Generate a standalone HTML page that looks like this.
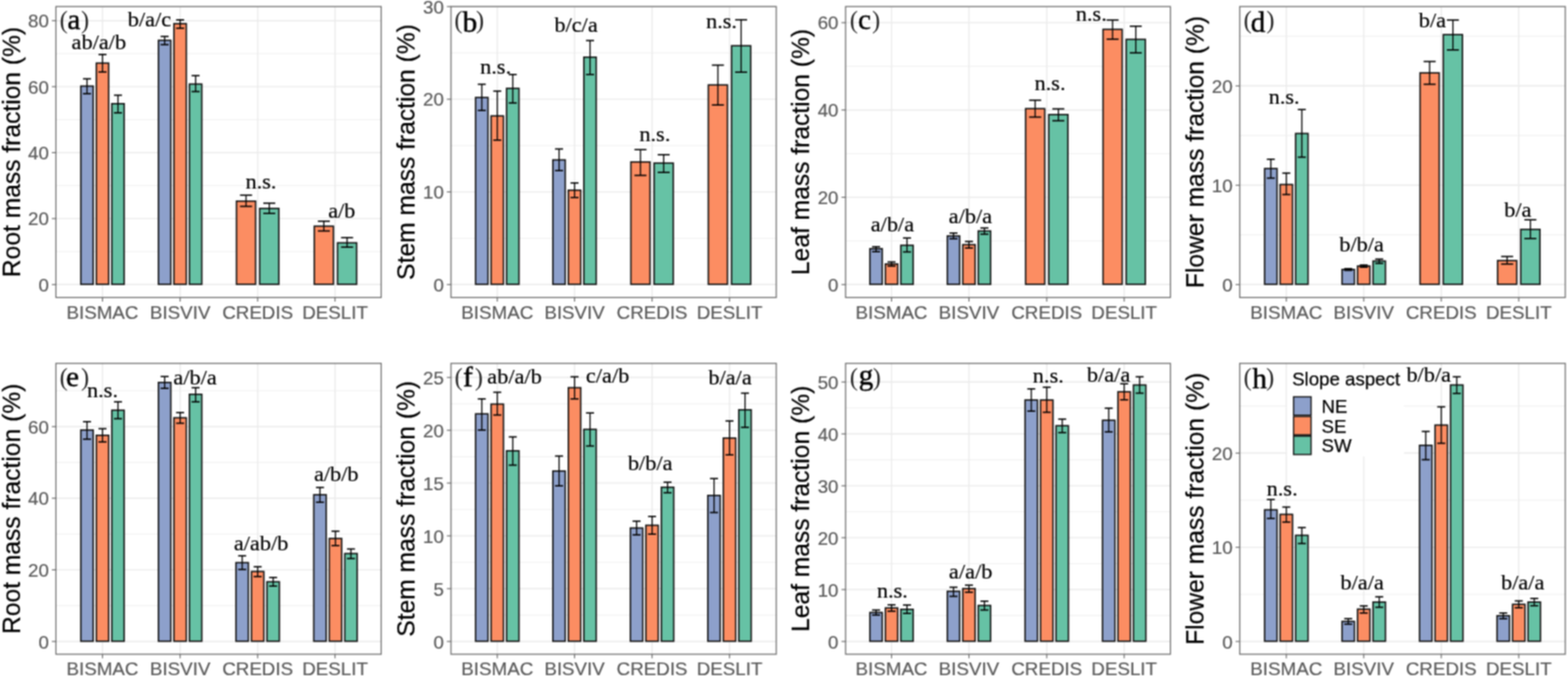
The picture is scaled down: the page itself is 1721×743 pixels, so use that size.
<!DOCTYPE html>
<html lang="en">
<head>
<meta charset="utf-8">
<title>Mass fractions by slope aspect</title>
<style>
html,body{margin:0;padding:0;background:#fff;}
body{width:1721px;height:743px;overflow:hidden;}
svg{display:block;}
text{font-family:"Liberation Sans",Arial,Helvetica,sans-serif;}
.es{stroke:#000;stroke-width:1.3px;}
.ec{stroke:#000;stroke-width:1.55px;}
.tk{font-size:20.6px;fill:#5a5a5a;stroke:#5a5a5a;stroke-width:0.2px;}
.ti{font-size:27px;fill:#000;stroke:#000;stroke-width:0.25px;}
.lt{font-size:20.4px;fill:#000;stroke:#000;stroke-width:0.25px;}
.pl{font-family:"Liberation Serif","Times New Roman",Times,serif;font-size:32.0px;fill:#000;stroke:#000;stroke-width:0.5px;}
.pp{font-family:"Liberation Serif","Times New Roman",Times,serif;font-size:26.4px;fill:#222;}
.sg{font-family:"Liberation Serif","Times New Roman",Times,serif;font-size:24px;fill:#000;stroke:#000;stroke-width:0.2px;}
</style>
</head>
<body>
<svg width="1721" height="743" viewBox="0 0 1721 743">
<defs><filter id="soft" x="0" y="0" width="1721" height="743" filterUnits="userSpaceOnUse" color-interpolation-filters="sRGB"><feConvolveMatrix order="3" kernelMatrix="1 2 1 2 4 2 1 2 1" edgeMode="duplicate" preserveAlpha="true"/></filter></defs>
<rect x="0" y="0" width="1721" height="743" fill="#ffffff"/>
<g filter="url(#soft)">
<rect x="0" y="0" width="1721" height="743" fill="#ffffff"/>
<g>
<line x1="61.4" x2="418.4" y1="276.1" y2="276.1" stroke="#ebebeb" stroke-width="0.75"/>
<line x1="61.4" x2="418.4" y1="203.7" y2="203.7" stroke="#ebebeb" stroke-width="0.75"/>
<line x1="61.4" x2="418.4" y1="131.3" y2="131.3" stroke="#ebebeb" stroke-width="0.75"/>
<line x1="61.4" x2="418.4" y1="58.9" y2="58.9" stroke="#ebebeb" stroke-width="0.75"/>
<line x1="61.4" x2="418.4" y1="312.3" y2="312.3" stroke="#ebebeb" stroke-width="1.4"/>
<line x1="61.4" x2="418.4" y1="239.9" y2="239.9" stroke="#ebebeb" stroke-width="1.4"/>
<line x1="61.4" x2="418.4" y1="167.5" y2="167.5" stroke="#ebebeb" stroke-width="1.4"/>
<line x1="61.4" x2="418.4" y1="95.1" y2="95.1" stroke="#ebebeb" stroke-width="1.4"/>
<line x1="61.4" x2="418.4" y1="22.7" y2="22.7" stroke="#ebebeb" stroke-width="1.4"/>
<line x1="112.5" x2="112.5" y1="7.2" y2="326.5" stroke="#ebebeb" stroke-width="1.4"/>
<line x1="197.7" x2="197.7" y1="7.2" y2="326.5" stroke="#ebebeb" stroke-width="1.4"/>
<line x1="282.8" x2="282.8" y1="7.2" y2="326.5" stroke="#ebebeb" stroke-width="1.4"/>
<line x1="367.7" x2="367.7" y1="7.2" y2="326.5" stroke="#ebebeb" stroke-width="1.4"/>
<rect x="88.7" y="94.5" width="13.6" height="217.5" fill="#8DA0CB" stroke="#141414" stroke-width="1.6"/>
<rect x="105.7" y="69.3" width="13.6" height="242.7" fill="#FC8D62" stroke="#141414" stroke-width="1.6"/>
<rect x="122.7" y="113.8" width="13.6" height="198.2" fill="#66C2A5" stroke="#141414" stroke-width="1.6"/>
<line class="es" x1="95.5" x2="95.5" y1="86.5" y2="102.8"/>
<line class="ec" x1="91.11" x2="99.89" y1="86.5" y2="86.5"/>
<line class="ec" x1="91.11" x2="99.89" y1="102.8" y2="102.8"/>
<line class="es" x1="112.5" x2="112.5" y1="59.8" y2="79"/>
<line class="ec" x1="108.11" x2="116.89" y1="59.8" y2="59.8"/>
<line class="ec" x1="108.11" x2="116.89" y1="79" y2="79"/>
<line class="es" x1="129.5" x2="129.5" y1="104.5" y2="123.8"/>
<line class="ec" x1="125.11" x2="133.89" y1="104.5" y2="104.5"/>
<line class="ec" x1="125.11" x2="133.89" y1="123.8" y2="123.8"/>
<rect x="173.9" y="44.3" width="13.6" height="267.7" fill="#8DA0CB" stroke="#141414" stroke-width="1.6"/>
<rect x="190.9" y="26" width="13.6" height="286" fill="#FC8D62" stroke="#141414" stroke-width="1.6"/>
<rect x="207.9" y="92.3" width="13.6" height="219.7" fill="#66C2A5" stroke="#141414" stroke-width="1.6"/>
<line class="es" x1="180.7" x2="180.7" y1="40" y2="49"/>
<line class="ec" x1="176.31" x2="185.09" y1="40" y2="40"/>
<line class="ec" x1="176.31" x2="185.09" y1="49" y2="49"/>
<line class="es" x1="197.7" x2="197.7" y1="21.8" y2="31"/>
<line class="ec" x1="193.31" x2="202.09" y1="21.8" y2="21.8"/>
<line class="ec" x1="193.31" x2="202.09" y1="31" y2="31"/>
<line class="es" x1="214.7" x2="214.7" y1="83" y2="100.5"/>
<line class="ec" x1="210.31" x2="219.09" y1="83" y2="83"/>
<line class="ec" x1="210.31" x2="219.09" y1="100.5" y2="100.5"/>
<rect x="259.55" y="220.75" width="21" height="91.25" fill="#FC8D62" stroke="#141414" stroke-width="1.6"/>
<rect x="285.05" y="228.75" width="21" height="83.25" fill="#66C2A5" stroke="#141414" stroke-width="1.6"/>
<line class="es" x1="270.05" x2="270.05" y1="214.25" y2="226.5"/>
<line class="ec" x1="263.46" x2="276.64" y1="214.25" y2="214.25"/>
<line class="ec" x1="263.46" x2="276.64" y1="226.5" y2="226.5"/>
<line class="es" x1="295.55" x2="295.55" y1="223" y2="234.25"/>
<line class="ec" x1="288.96" x2="302.14" y1="223" y2="223"/>
<line class="ec" x1="288.96" x2="302.14" y1="234.25" y2="234.25"/>
<rect x="344.95" y="248.25" width="21" height="63.75" fill="#FC8D62" stroke="#141414" stroke-width="1.6"/>
<rect x="370.45" y="266.5" width="21" height="45.5" fill="#66C2A5" stroke="#141414" stroke-width="1.6"/>
<line class="es" x1="355.45" x2="355.45" y1="242.75" y2="253.5"/>
<line class="ec" x1="348.86" x2="362.04" y1="242.75" y2="242.75"/>
<line class="ec" x1="348.86" x2="362.04" y1="253.5" y2="253.5"/>
<line class="es" x1="380.95" x2="380.95" y1="260.75" y2="271.25"/>
<line class="ec" x1="374.36" x2="387.54" y1="260.75" y2="260.75"/>
<line class="ec" x1="374.36" x2="387.54" y1="271.25" y2="271.25"/>
<rect x="61.4" y="7.2" width="357" height="319.3" fill="none" stroke="#6e6e6e" stroke-width="1.25"/>
<line x1="56.9" x2="61.4" y1="312.3" y2="312.3" stroke="#666666" stroke-width="1.1"/>
<text class="tk" x="53.6" y="319.8" text-anchor="end">0</text>
<line x1="56.9" x2="61.4" y1="239.9" y2="239.9" stroke="#666666" stroke-width="1.1"/>
<text class="tk" x="53.6" y="247.4" text-anchor="end">20</text>
<line x1="56.9" x2="61.4" y1="167.5" y2="167.5" stroke="#666666" stroke-width="1.1"/>
<text class="tk" x="53.6" y="175" text-anchor="end">40</text>
<line x1="56.9" x2="61.4" y1="95.1" y2="95.1" stroke="#666666" stroke-width="1.1"/>
<text class="tk" x="53.6" y="102.6" text-anchor="end">60</text>
<line x1="56.9" x2="61.4" y1="22.7" y2="22.7" stroke="#666666" stroke-width="1.1"/>
<text class="tk" x="53.6" y="30.2" text-anchor="end">80</text>
<line x1="112.5" x2="112.5" y1="326.5" y2="331" stroke="#666666" stroke-width="1.1"/>
<text class="tk" x="112.5" y="349.5" text-anchor="middle">BISMAC</text>
<line x1="197.7" x2="197.7" y1="326.5" y2="331" stroke="#666666" stroke-width="1.1"/>
<text class="tk" x="197.7" y="349.5" text-anchor="middle">BISVIV</text>
<line x1="282.8" x2="282.8" y1="326.5" y2="331" stroke="#666666" stroke-width="1.1"/>
<text class="tk" x="282.8" y="349.5" text-anchor="middle">CREDIS</text>
<line x1="367.7" x2="367.7" y1="326.5" y2="331" stroke="#666666" stroke-width="1.1"/>
<text class="tk" x="367.7" y="349.5" text-anchor="middle">DESLIT</text>
<text class="ti" transform="translate(21.8 166.85) rotate(-90)" text-anchor="middle">Root mass fraction (%)</text>
<text><tspan class="pp" x="65.4" y="31.45">(</tspan><tspan class="pl" x="73.9" y="31.7">a</tspan><tspan class="pp" x="89.11" y="31.45">)</tspan></text>
<text class="sg" transform="translate(108.5 53.9) scale(1.02 1)" text-anchor="middle">ab/a/b</text>
<text class="sg" transform="translate(164.1 28.55) scale(1.02 1)" text-anchor="middle">b/a/c</text>
<text class="sg" transform="translate(286.4 207.3) scale(1.02 1)" text-anchor="middle">n.s.</text>
<text class="sg" transform="translate(375.1 239.3) scale(1.02 1)" text-anchor="middle">a/b</text>
</g>
<g>
<line x1="495" x2="852" y1="261.45" y2="261.45" stroke="#ebebeb" stroke-width="0.75"/>
<line x1="495" x2="852" y1="159.75" y2="159.75" stroke="#ebebeb" stroke-width="0.75"/>
<line x1="495" x2="852" y1="58.05" y2="58.05" stroke="#ebebeb" stroke-width="0.75"/>
<line x1="495" x2="852" y1="312.3" y2="312.3" stroke="#ebebeb" stroke-width="1.4"/>
<line x1="495" x2="852" y1="210.6" y2="210.6" stroke="#ebebeb" stroke-width="1.4"/>
<line x1="495" x2="852" y1="108.9" y2="108.9" stroke="#ebebeb" stroke-width="1.4"/>
<line x1="495" x2="852" y1="7.2" y2="7.2" stroke="#ebebeb" stroke-width="1.4"/>
<line x1="545.8" x2="545.8" y1="7.2" y2="326.5" stroke="#ebebeb" stroke-width="1.4"/>
<line x1="630.6" x2="630.6" y1="7.2" y2="326.5" stroke="#ebebeb" stroke-width="1.4"/>
<line x1="715.7" x2="715.7" y1="7.2" y2="326.5" stroke="#ebebeb" stroke-width="1.4"/>
<line x1="800.7" x2="800.7" y1="7.2" y2="326.5" stroke="#ebebeb" stroke-width="1.4"/>
<rect x="522" y="107" width="13.6" height="205" fill="#8DA0CB" stroke="#141414" stroke-width="1.6"/>
<rect x="539" y="127.25" width="13.6" height="184.75" fill="#FC8D62" stroke="#141414" stroke-width="1.6"/>
<rect x="556" y="97" width="13.6" height="215" fill="#66C2A5" stroke="#141414" stroke-width="1.6"/>
<line class="es" x1="528.8" x2="528.8" y1="92.5" y2="121.25"/>
<line class="ec" x1="524.41" x2="533.19" y1="92.5" y2="92.5"/>
<line class="ec" x1="524.41" x2="533.19" y1="121.25" y2="121.25"/>
<line class="es" x1="545.8" x2="545.8" y1="100" y2="153.75"/>
<line class="ec" x1="541.41" x2="550.19" y1="100" y2="100"/>
<line class="ec" x1="541.41" x2="550.19" y1="153.75" y2="153.75"/>
<line class="es" x1="562.8" x2="562.8" y1="81.75" y2="113"/>
<line class="ec" x1="558.41" x2="567.19" y1="81.75" y2="81.75"/>
<line class="ec" x1="558.41" x2="567.19" y1="113" y2="113"/>
<rect x="606.8" y="175.5" width="13.6" height="136.5" fill="#8DA0CB" stroke="#141414" stroke-width="1.6"/>
<rect x="623.8" y="208.75" width="13.6" height="103.25" fill="#FC8D62" stroke="#141414" stroke-width="1.6"/>
<rect x="640.8" y="62.75" width="13.6" height="249.25" fill="#66C2A5" stroke="#141414" stroke-width="1.6"/>
<line class="es" x1="613.6" x2="613.6" y1="163.5" y2="187.25"/>
<line class="ec" x1="609.21" x2="617.99" y1="163.5" y2="163.5"/>
<line class="ec" x1="609.21" x2="617.99" y1="187.25" y2="187.25"/>
<line class="es" x1="630.6" x2="630.6" y1="200.75" y2="216.75"/>
<line class="ec" x1="626.21" x2="634.99" y1="200.75" y2="200.75"/>
<line class="ec" x1="626.21" x2="634.99" y1="216.75" y2="216.75"/>
<line class="es" x1="647.6" x2="647.6" y1="44.5" y2="81.75"/>
<line class="ec" x1="643.21" x2="651.99" y1="44.5" y2="44.5"/>
<line class="ec" x1="643.21" x2="651.99" y1="81.75" y2="81.75"/>
<rect x="692.45" y="177.75" width="21" height="134.25" fill="#FC8D62" stroke="#141414" stroke-width="1.6"/>
<rect x="717.95" y="179" width="21" height="133" fill="#66C2A5" stroke="#141414" stroke-width="1.6"/>
<line class="es" x1="702.95" x2="702.95" y1="164.25" y2="192.5"/>
<line class="ec" x1="696.36" x2="709.54" y1="164.25" y2="164.25"/>
<line class="ec" x1="696.36" x2="709.54" y1="192.5" y2="192.5"/>
<line class="es" x1="728.45" x2="728.45" y1="169.75" y2="189.25"/>
<line class="ec" x1="721.86" x2="735.04" y1="169.75" y2="169.75"/>
<line class="ec" x1="721.86" x2="735.04" y1="189.25" y2="189.25"/>
<rect x="777.45" y="93.25" width="21" height="218.75" fill="#FC8D62" stroke="#141414" stroke-width="1.6"/>
<rect x="802.95" y="50.25" width="21" height="261.75" fill="#66C2A5" stroke="#141414" stroke-width="1.6"/>
<line class="es" x1="787.95" x2="787.95" y1="71.5" y2="115.25"/>
<line class="ec" x1="781.36" x2="794.54" y1="71.5" y2="71.5"/>
<line class="ec" x1="781.36" x2="794.54" y1="115.25" y2="115.25"/>
<line class="es" x1="813.45" x2="813.45" y1="21.7" y2="79.25"/>
<line class="ec" x1="806.86" x2="820.04" y1="21.7" y2="21.7"/>
<line class="ec" x1="806.86" x2="820.04" y1="79.25" y2="79.25"/>
<rect x="495" y="7.2" width="357" height="319.3" fill="none" stroke="#6e6e6e" stroke-width="1.25"/>
<line x1="490.5" x2="495" y1="312.3" y2="312.3" stroke="#666666" stroke-width="1.1"/>
<text class="tk" x="487.2" y="319.8" text-anchor="end">0</text>
<line x1="490.5" x2="495" y1="210.6" y2="210.6" stroke="#666666" stroke-width="1.1"/>
<text class="tk" x="487.2" y="218.1" text-anchor="end">10</text>
<line x1="490.5" x2="495" y1="108.9" y2="108.9" stroke="#666666" stroke-width="1.1"/>
<text class="tk" x="487.2" y="116.4" text-anchor="end">20</text>
<line x1="490.5" x2="495" y1="7.2" y2="7.2" stroke="#666666" stroke-width="1.1"/>
<text class="tk" x="487.2" y="14.7" text-anchor="end">30</text>
<line x1="545.8" x2="545.8" y1="326.5" y2="331" stroke="#666666" stroke-width="1.1"/>
<text class="tk" x="545.8" y="349.5" text-anchor="middle">BISMAC</text>
<line x1="630.6" x2="630.6" y1="326.5" y2="331" stroke="#666666" stroke-width="1.1"/>
<text class="tk" x="630.6" y="349.5" text-anchor="middle">BISVIV</text>
<line x1="715.7" x2="715.7" y1="326.5" y2="331" stroke="#666666" stroke-width="1.1"/>
<text class="tk" x="715.7" y="349.5" text-anchor="middle">CREDIS</text>
<line x1="800.7" x2="800.7" y1="326.5" y2="331" stroke="#666666" stroke-width="1.1"/>
<text class="tk" x="800.7" y="349.5" text-anchor="middle">DESLIT</text>
<text class="ti" transform="translate(455.4 166.85) rotate(-90)" text-anchor="middle">Stem mass fraction (%)</text>
<text><tspan class="pp" x="498.7" y="31.45">(</tspan><tspan class="pl" x="507.81" y="35.25">b</tspan><tspan class="pp" x="522.41" y="31.45">)</tspan></text>
<text class="sg" transform="translate(544 80.8) scale(1.02 1)" text-anchor="middle">n.s.</text>
<text class="sg" transform="translate(632.25 34.55) scale(1.02 1)" text-anchor="middle">b/c/a</text>
<text class="sg" transform="translate(718.75 154.55) scale(1.02 1)" text-anchor="middle">n.s.</text>
<text class="sg" transform="translate(791.9 31.3) scale(1.02 1)" text-anchor="middle">n.s.</text>
</g>
<g>
<line x1="928.1" x2="1284.6" y1="264.4" y2="264.4" stroke="#ebebeb" stroke-width="0.75"/>
<line x1="928.1" x2="1284.6" y1="168.6" y2="168.6" stroke="#ebebeb" stroke-width="0.75"/>
<line x1="928.1" x2="1284.6" y1="72.8" y2="72.8" stroke="#ebebeb" stroke-width="0.75"/>
<line x1="928.1" x2="1284.6" y1="312.3" y2="312.3" stroke="#ebebeb" stroke-width="1.4"/>
<line x1="928.1" x2="1284.6" y1="216.5" y2="216.5" stroke="#ebebeb" stroke-width="1.4"/>
<line x1="928.1" x2="1284.6" y1="120.7" y2="120.7" stroke="#ebebeb" stroke-width="1.4"/>
<line x1="928.1" x2="1284.6" y1="24.9" y2="24.9" stroke="#ebebeb" stroke-width="1.4"/>
<line x1="978.53" x2="978.53" y1="7.2" y2="326.5" stroke="#ebebeb" stroke-width="1.4"/>
<line x1="1063.51" x2="1063.51" y1="7.2" y2="326.5" stroke="#ebebeb" stroke-width="1.4"/>
<line x1="1148.89" x2="1148.89" y1="7.2" y2="326.5" stroke="#ebebeb" stroke-width="1.4"/>
<line x1="1233.87" x2="1233.87" y1="7.2" y2="326.5" stroke="#ebebeb" stroke-width="1.4"/>
<rect x="954.75" y="273" width="13.6" height="39" fill="#8DA0CB" stroke="#141414" stroke-width="1.6"/>
<rect x="971.73" y="289.75" width="13.6" height="22.25" fill="#FC8D62" stroke="#141414" stroke-width="1.6"/>
<rect x="988.7" y="269.25" width="13.6" height="42.75" fill="#66C2A5" stroke="#141414" stroke-width="1.6"/>
<line class="es" x1="961.55" x2="961.55" y1="270.75" y2="276.25"/>
<line class="ec" x1="957.17" x2="965.94" y1="270.75" y2="270.75"/>
<line class="ec" x1="957.17" x2="965.94" y1="276.25" y2="276.25"/>
<line class="es" x1="978.53" x2="978.53" y1="287.5" y2="292"/>
<line class="ec" x1="974.14" x2="982.91" y1="287.5" y2="287.5"/>
<line class="ec" x1="974.14" x2="982.91" y1="292" y2="292"/>
<line class="es" x1="995.5" x2="995.5" y1="261.25" y2="276.5"/>
<line class="ec" x1="991.12" x2="999.89" y1="261.25" y2="261.25"/>
<line class="ec" x1="991.12" x2="999.89" y1="276.5" y2="276.5"/>
<rect x="1039.73" y="259" width="13.6" height="53" fill="#8DA0CB" stroke="#141414" stroke-width="1.6"/>
<rect x="1056.71" y="268.5" width="13.6" height="43.5" fill="#FC8D62" stroke="#141414" stroke-width="1.6"/>
<rect x="1073.69" y="253.5" width="13.6" height="58.5" fill="#66C2A5" stroke="#141414" stroke-width="1.6"/>
<line class="es" x1="1046.53" x2="1046.53" y1="255.75" y2="262"/>
<line class="ec" x1="1042.15" x2="1050.92" y1="255.75" y2="255.75"/>
<line class="ec" x1="1042.15" x2="1050.92" y1="262" y2="262"/>
<line class="es" x1="1063.51" x2="1063.51" y1="265" y2="272.25"/>
<line class="ec" x1="1059.12" x2="1067.9" y1="265" y2="265"/>
<line class="ec" x1="1059.12" x2="1067.9" y1="272.25" y2="272.25"/>
<line class="es" x1="1080.49" x2="1080.49" y1="250.25" y2="257"/>
<line class="ec" x1="1076.1" x2="1084.87" y1="250.25" y2="250.25"/>
<line class="ec" x1="1076.1" x2="1084.87" y1="257" y2="257"/>
<rect x="1125.66" y="119.25" width="21" height="192.75" fill="#FC8D62" stroke="#141414" stroke-width="1.6"/>
<rect x="1151.12" y="125.75" width="21" height="186.25" fill="#66C2A5" stroke="#141414" stroke-width="1.6"/>
<line class="es" x1="1136.16" x2="1136.16" y1="110" y2="128.5"/>
<line class="ec" x1="1129.58" x2="1142.74" y1="110" y2="110"/>
<line class="ec" x1="1129.58" x2="1142.74" y1="128.5" y2="128.5"/>
<line class="es" x1="1161.62" x2="1161.62" y1="119.5" y2="132.5"/>
<line class="ec" x1="1155.04" x2="1168.2" y1="119.5" y2="119.5"/>
<line class="ec" x1="1155.04" x2="1168.2" y1="132.5" y2="132.5"/>
<rect x="1210.64" y="32.25" width="21" height="279.75" fill="#FC8D62" stroke="#141414" stroke-width="1.6"/>
<rect x="1236.1" y="43.25" width="21" height="268.75" fill="#66C2A5" stroke="#141414" stroke-width="1.6"/>
<line class="es" x1="1221.14" x2="1221.14" y1="22" y2="43"/>
<line class="ec" x1="1214.56" x2="1227.72" y1="22" y2="22"/>
<line class="ec" x1="1214.56" x2="1227.72" y1="43" y2="43"/>
<line class="es" x1="1246.6" x2="1246.6" y1="28.75" y2="58"/>
<line class="ec" x1="1240.03" x2="1253.18" y1="28.75" y2="28.75"/>
<line class="ec" x1="1240.03" x2="1253.18" y1="58" y2="58"/>
<rect x="928.1" y="7.2" width="356.5" height="319.3" fill="none" stroke="#6e6e6e" stroke-width="1.25"/>
<line x1="923.6" x2="928.1" y1="312.3" y2="312.3" stroke="#666666" stroke-width="1.1"/>
<text class="tk" x="920.3" y="319.8" text-anchor="end">0</text>
<line x1="923.6" x2="928.1" y1="216.5" y2="216.5" stroke="#666666" stroke-width="1.1"/>
<text class="tk" x="920.3" y="224" text-anchor="end">20</text>
<line x1="923.6" x2="928.1" y1="120.7" y2="120.7" stroke="#666666" stroke-width="1.1"/>
<text class="tk" x="920.3" y="128.2" text-anchor="end">40</text>
<line x1="923.6" x2="928.1" y1="24.9" y2="24.9" stroke="#666666" stroke-width="1.1"/>
<text class="tk" x="920.3" y="32.4" text-anchor="end">60</text>
<line x1="978.53" x2="978.53" y1="326.5" y2="331" stroke="#666666" stroke-width="1.1"/>
<text class="tk" x="978.53" y="349.5" text-anchor="middle">BISMAC</text>
<line x1="1063.51" x2="1063.51" y1="326.5" y2="331" stroke="#666666" stroke-width="1.1"/>
<text class="tk" x="1063.51" y="349.5" text-anchor="middle">BISVIV</text>
<line x1="1148.89" x2="1148.89" y1="326.5" y2="331" stroke="#666666" stroke-width="1.1"/>
<text class="tk" x="1148.89" y="349.5" text-anchor="middle">CREDIS</text>
<line x1="1233.87" x2="1233.87" y1="326.5" y2="331" stroke="#666666" stroke-width="1.1"/>
<text class="tk" x="1233.87" y="349.5" text-anchor="middle">DESLIT</text>
<text class="ti" transform="translate(887.5 166.85) rotate(-90)" text-anchor="middle">Leaf mass fraction (%)</text>
<text><tspan class="pp" x="932.65" y="31.45">(</tspan><tspan class="pl" x="941.78" y="31.73">c</tspan><tspan class="pp" x="957.21" y="31.45">)</tspan></text>
<text class="sg" transform="translate(979.5 253.8) scale(1.02 1)" text-anchor="middle">a/b/a</text>
<text class="sg" transform="translate(1065.1 245.3) scale(1.02 1)" text-anchor="middle">a/b/a</text>
<text class="sg" transform="translate(1152.5 98.55) scale(1.02 1)" text-anchor="middle">n.s.</text>
<text class="sg" transform="translate(1197.75 23.3) scale(1.02 1)" text-anchor="middle">n.s.</text>
</g>
<g>
<line x1="1360.7" x2="1718" y1="257.8" y2="257.8" stroke="#ebebeb" stroke-width="0.75"/>
<line x1="1360.7" x2="1718" y1="148.8" y2="148.8" stroke="#ebebeb" stroke-width="0.75"/>
<line x1="1360.7" x2="1718" y1="39.8" y2="39.8" stroke="#ebebeb" stroke-width="0.75"/>
<line x1="1360.7" x2="1718" y1="312.3" y2="312.3" stroke="#ebebeb" stroke-width="1.4"/>
<line x1="1360.7" x2="1718" y1="203.3" y2="203.3" stroke="#ebebeb" stroke-width="1.4"/>
<line x1="1360.7" x2="1718" y1="94.3" y2="94.3" stroke="#ebebeb" stroke-width="1.4"/>
<line x1="1411.84" x2="1411.84" y1="7.2" y2="326.5" stroke="#ebebeb" stroke-width="1.4"/>
<line x1="1496.81" x2="1496.81" y1="7.2" y2="326.5" stroke="#ebebeb" stroke-width="1.4"/>
<line x1="1581.89" x2="1581.89" y1="7.2" y2="326.5" stroke="#ebebeb" stroke-width="1.4"/>
<line x1="1666.96" x2="1666.96" y1="7.2" y2="326.5" stroke="#ebebeb" stroke-width="1.4"/>
<rect x="1388.03" y="185" width="13.6" height="127" fill="#8DA0CB" stroke="#141414" stroke-width="1.6"/>
<rect x="1405.04" y="202.5" width="13.6" height="109.5" fill="#FC8D62" stroke="#141414" stroke-width="1.6"/>
<rect x="1422.06" y="146.5" width="13.6" height="165.5" fill="#66C2A5" stroke="#141414" stroke-width="1.6"/>
<line class="es" x1="1394.83" x2="1394.83" y1="174.75" y2="195.5"/>
<line class="ec" x1="1390.43" x2="1399.22" y1="174.75" y2="174.75"/>
<line class="ec" x1="1390.43" x2="1399.22" y1="195.5" y2="195.5"/>
<line class="es" x1="1411.84" x2="1411.84" y1="190" y2="213.5"/>
<line class="ec" x1="1407.45" x2="1416.24" y1="190" y2="190"/>
<line class="ec" x1="1407.45" x2="1416.24" y1="213.5" y2="213.5"/>
<line class="es" x1="1428.86" x2="1428.86" y1="120.25" y2="172.5"/>
<line class="ec" x1="1424.46" x2="1433.25" y1="120.25" y2="120.25"/>
<line class="ec" x1="1424.46" x2="1433.25" y1="172.5" y2="172.5"/>
<rect x="1473" y="295.75" width="13.6" height="16.25" fill="#8DA0CB" stroke="#141414" stroke-width="1.6"/>
<rect x="1490.01" y="292" width="13.6" height="20" fill="#FC8D62" stroke="#141414" stroke-width="1.6"/>
<rect x="1507.03" y="286.5" width="13.6" height="25.5" fill="#66C2A5" stroke="#141414" stroke-width="1.6"/>
<line class="es" x1="1479.8" x2="1479.8" y1="294.9" y2="296.7"/>
<line class="ec" x1="1475.4" x2="1484.2" y1="294.9" y2="294.9"/>
<line class="ec" x1="1475.4" x2="1484.2" y1="296.7" y2="296.7"/>
<line class="es" x1="1496.81" x2="1496.81" y1="290.9" y2="293.2"/>
<line class="ec" x1="1492.42" x2="1501.21" y1="290.9" y2="290.9"/>
<line class="ec" x1="1492.42" x2="1501.21" y1="293.2" y2="293.2"/>
<line class="es" x1="1513.83" x2="1513.83" y1="284.4" y2="289.1"/>
<line class="ec" x1="1509.43" x2="1518.22" y1="284.4" y2="284.4"/>
<line class="ec" x1="1509.43" x2="1518.22" y1="289.1" y2="289.1"/>
<rect x="1558.62" y="80" width="21" height="232" fill="#FC8D62" stroke="#141414" stroke-width="1.6"/>
<rect x="1584.15" y="38" width="21" height="274" fill="#66C2A5" stroke="#141414" stroke-width="1.6"/>
<line class="es" x1="1569.12" x2="1569.12" y1="67.5" y2="92.5"/>
<line class="ec" x1="1562.53" x2="1575.72" y1="67.5" y2="67.5"/>
<line class="ec" x1="1562.53" x2="1575.72" y1="92.5" y2="92.5"/>
<line class="es" x1="1594.65" x2="1594.65" y1="22" y2="54.75"/>
<line class="ec" x1="1588.05" x2="1601.24" y1="22" y2="22"/>
<line class="ec" x1="1588.05" x2="1601.24" y1="54.75" y2="54.75"/>
<rect x="1643.7" y="286" width="21" height="26" fill="#FC8D62" stroke="#141414" stroke-width="1.6"/>
<rect x="1669.22" y="251.75" width="21" height="60.25" fill="#66C2A5" stroke="#141414" stroke-width="1.6"/>
<line class="es" x1="1654.2" x2="1654.2" y1="281.5" y2="289.75"/>
<line class="ec" x1="1647.6" x2="1660.79" y1="281.5" y2="281.5"/>
<line class="ec" x1="1647.6" x2="1660.79" y1="289.75" y2="289.75"/>
<line class="es" x1="1679.72" x2="1679.72" y1="241.25" y2="261.75"/>
<line class="ec" x1="1673.12" x2="1686.31" y1="241.25" y2="241.25"/>
<line class="ec" x1="1673.12" x2="1686.31" y1="261.75" y2="261.75"/>
<rect x="1360.7" y="7.2" width="357.3" height="319.3" fill="none" stroke="#6e6e6e" stroke-width="1.25"/>
<line x1="1356.2" x2="1360.7" y1="312.3" y2="312.3" stroke="#666666" stroke-width="1.1"/>
<text class="tk" x="1352.9" y="319.8" text-anchor="end">0</text>
<line x1="1356.2" x2="1360.7" y1="203.3" y2="203.3" stroke="#666666" stroke-width="1.1"/>
<text class="tk" x="1352.9" y="210.8" text-anchor="end">10</text>
<line x1="1356.2" x2="1360.7" y1="94.3" y2="94.3" stroke="#666666" stroke-width="1.1"/>
<text class="tk" x="1352.9" y="101.8" text-anchor="end">20</text>
<line x1="1411.84" x2="1411.84" y1="326.5" y2="331" stroke="#666666" stroke-width="1.1"/>
<text class="tk" x="1411.84" y="349.5" text-anchor="middle">BISMAC</text>
<line x1="1496.81" x2="1496.81" y1="326.5" y2="331" stroke="#666666" stroke-width="1.1"/>
<text class="tk" x="1496.81" y="349.5" text-anchor="middle">BISVIV</text>
<line x1="1581.89" x2="1581.89" y1="326.5" y2="331" stroke="#666666" stroke-width="1.1"/>
<text class="tk" x="1581.89" y="349.5" text-anchor="middle">CREDIS</text>
<line x1="1666.96" x2="1666.96" y1="326.5" y2="331" stroke="#666666" stroke-width="1.1"/>
<text class="tk" x="1666.96" y="349.5" text-anchor="middle">DESLIT</text>
<text class="ti" transform="translate(1321.1 166.85) rotate(-90)" text-anchor="middle">Flower mass fraction (%)</text>
<text><tspan class="pp" x="1365.1" y="31.45">(</tspan><tspan class="pl" x="1372.67" y="35.25">d</tspan><tspan class="pp" x="1390.01" y="31.45">)</tspan></text>
<text class="sg" transform="translate(1409.4 113.55) scale(1.02 1)" text-anchor="middle">n.s.</text>
<text class="sg" transform="translate(1494.5 276.3) scale(1.02 1)" text-anchor="middle">b/b/a</text>
<text class="sg" transform="translate(1572.25 30.3) scale(1.02 1)" text-anchor="middle">b/a</text>
<text class="sg" transform="translate(1666 238.05) scale(1.02 1)" text-anchor="middle">b/a</text>
</g>
<g>
<line x1="61.4" x2="418.4" y1="664.7" y2="664.7" stroke="#ebebeb" stroke-width="0.75"/>
<line x1="61.4" x2="418.4" y1="586.1" y2="586.1" stroke="#ebebeb" stroke-width="0.75"/>
<line x1="61.4" x2="418.4" y1="507.5" y2="507.5" stroke="#ebebeb" stroke-width="0.75"/>
<line x1="61.4" x2="418.4" y1="428.9" y2="428.9" stroke="#ebebeb" stroke-width="0.75"/>
<line x1="61.4" x2="418.4" y1="704" y2="704" stroke="#ebebeb" stroke-width="1.4"/>
<line x1="61.4" x2="418.4" y1="625.4" y2="625.4" stroke="#ebebeb" stroke-width="1.4"/>
<line x1="61.4" x2="418.4" y1="546.8" y2="546.8" stroke="#ebebeb" stroke-width="1.4"/>
<line x1="61.4" x2="418.4" y1="468.2" y2="468.2" stroke="#ebebeb" stroke-width="1.4"/>
<line x1="112.5" x2="112.5" y1="398.8" y2="718" stroke="#ebebeb" stroke-width="1.4"/>
<line x1="197.7" x2="197.7" y1="398.8" y2="718" stroke="#ebebeb" stroke-width="1.4"/>
<line x1="282.8" x2="282.8" y1="398.8" y2="718" stroke="#ebebeb" stroke-width="1.4"/>
<line x1="367.7" x2="367.7" y1="398.8" y2="718" stroke="#ebebeb" stroke-width="1.4"/>
<rect x="88.7" y="472" width="13.6" height="231.7" fill="#8DA0CB" stroke="#141414" stroke-width="1.6"/>
<rect x="105.7" y="477.75" width="13.6" height="225.95" fill="#FC8D62" stroke="#141414" stroke-width="1.6"/>
<rect x="122.7" y="450.25" width="13.6" height="253.45" fill="#66C2A5" stroke="#141414" stroke-width="1.6"/>
<line class="es" x1="95.5" x2="95.5" y1="462.75" y2="482"/>
<line class="ec" x1="91.11" x2="99.89" y1="462.75" y2="462.75"/>
<line class="ec" x1="91.11" x2="99.89" y1="482" y2="482"/>
<line class="es" x1="112.5" x2="112.5" y1="470.5" y2="485"/>
<line class="ec" x1="108.11" x2="116.89" y1="470.5" y2="470.5"/>
<line class="ec" x1="108.11" x2="116.89" y1="485" y2="485"/>
<line class="es" x1="129.5" x2="129.5" y1="441" y2="459.5"/>
<line class="ec" x1="125.11" x2="133.89" y1="441" y2="441"/>
<line class="ec" x1="125.11" x2="133.89" y1="459.5" y2="459.5"/>
<rect x="173.9" y="419.75" width="13.6" height="283.95" fill="#8DA0CB" stroke="#141414" stroke-width="1.6"/>
<rect x="190.9" y="458.5" width="13.6" height="245.2" fill="#FC8D62" stroke="#141414" stroke-width="1.6"/>
<rect x="207.9" y="432.75" width="13.6" height="270.95" fill="#66C2A5" stroke="#141414" stroke-width="1.6"/>
<line class="es" x1="180.7" x2="180.7" y1="413.25" y2="426.25"/>
<line class="ec" x1="176.31" x2="185.09" y1="413.25" y2="413.25"/>
<line class="ec" x1="176.31" x2="185.09" y1="426.25" y2="426.25"/>
<line class="es" x1="197.7" x2="197.7" y1="452.75" y2="464.5"/>
<line class="ec" x1="193.31" x2="202.09" y1="452.75" y2="452.75"/>
<line class="ec" x1="193.31" x2="202.09" y1="464.5" y2="464.5"/>
<line class="es" x1="214.7" x2="214.7" y1="425.5" y2="441"/>
<line class="ec" x1="210.31" x2="219.09" y1="425.5" y2="425.5"/>
<line class="ec" x1="210.31" x2="219.09" y1="441" y2="441"/>
<rect x="259" y="617.5" width="13.6" height="86.2" fill="#8DA0CB" stroke="#141414" stroke-width="1.6"/>
<rect x="276" y="627.25" width="13.6" height="76.45" fill="#FC8D62" stroke="#141414" stroke-width="1.6"/>
<rect x="293" y="638.5" width="13.6" height="65.2" fill="#66C2A5" stroke="#141414" stroke-width="1.6"/>
<line class="es" x1="265.8" x2="265.8" y1="610" y2="625"/>
<line class="ec" x1="261.41" x2="270.19" y1="610" y2="610"/>
<line class="ec" x1="261.41" x2="270.19" y1="625" y2="625"/>
<line class="es" x1="282.8" x2="282.8" y1="622" y2="632.75"/>
<line class="ec" x1="278.41" x2="287.19" y1="622" y2="622"/>
<line class="ec" x1="278.41" x2="287.19" y1="632.75" y2="632.75"/>
<line class="es" x1="299.8" x2="299.8" y1="633.75" y2="643.25"/>
<line class="ec" x1="295.41" x2="304.19" y1="633.75" y2="633.75"/>
<line class="ec" x1="295.41" x2="304.19" y1="643.25" y2="643.25"/>
<rect x="344.4" y="543" width="13.6" height="160.7" fill="#8DA0CB" stroke="#141414" stroke-width="1.6"/>
<rect x="361.4" y="591" width="13.6" height="112.7" fill="#FC8D62" stroke="#141414" stroke-width="1.6"/>
<rect x="378.4" y="607.5" width="13.6" height="96.2" fill="#66C2A5" stroke="#141414" stroke-width="1.6"/>
<line class="es" x1="351.2" x2="351.2" y1="535" y2="551.25"/>
<line class="ec" x1="346.81" x2="355.59" y1="535" y2="535"/>
<line class="ec" x1="346.81" x2="355.59" y1="551.25" y2="551.25"/>
<line class="es" x1="368.2" x2="368.2" y1="583" y2="598.75"/>
<line class="ec" x1="363.81" x2="372.59" y1="583" y2="583"/>
<line class="ec" x1="363.81" x2="372.59" y1="598.75" y2="598.75"/>
<line class="es" x1="385.2" x2="385.2" y1="602.5" y2="613"/>
<line class="ec" x1="380.81" x2="389.59" y1="602.5" y2="602.5"/>
<line class="ec" x1="380.81" x2="389.59" y1="613" y2="613"/>
<rect x="61.4" y="398.8" width="357" height="319.2" fill="none" stroke="#6e6e6e" stroke-width="1.25"/>
<line x1="56.9" x2="61.4" y1="704" y2="704" stroke="#666666" stroke-width="1.1"/>
<text class="tk" x="53.6" y="711.5" text-anchor="end">0</text>
<line x1="56.9" x2="61.4" y1="625.4" y2="625.4" stroke="#666666" stroke-width="1.1"/>
<text class="tk" x="53.6" y="632.9" text-anchor="end">20</text>
<line x1="56.9" x2="61.4" y1="546.8" y2="546.8" stroke="#666666" stroke-width="1.1"/>
<text class="tk" x="53.6" y="554.3" text-anchor="end">40</text>
<line x1="56.9" x2="61.4" y1="468.2" y2="468.2" stroke="#666666" stroke-width="1.1"/>
<text class="tk" x="53.6" y="475.7" text-anchor="end">60</text>
<line x1="112.5" x2="112.5" y1="718" y2="722.5" stroke="#666666" stroke-width="1.1"/>
<text class="tk" x="112.5" y="741" text-anchor="middle">BISMAC</text>
<line x1="197.7" x2="197.7" y1="718" y2="722.5" stroke="#666666" stroke-width="1.1"/>
<text class="tk" x="197.7" y="741" text-anchor="middle">BISVIV</text>
<line x1="282.8" x2="282.8" y1="718" y2="722.5" stroke="#666666" stroke-width="1.1"/>
<text class="tk" x="282.8" y="741" text-anchor="middle">CREDIS</text>
<line x1="367.7" x2="367.7" y1="718" y2="722.5" stroke="#666666" stroke-width="1.1"/>
<text class="tk" x="367.7" y="741" text-anchor="middle">DESLIT</text>
<text class="ti" transform="translate(21.8 558.4) rotate(-90)" text-anchor="middle">Root mass fraction (%)</text>
<text><tspan class="pp" x="65.4" y="423.25">(</tspan><tspan class="pl" x="72.38" y="423.93">e</tspan><tspan class="pp" x="88.91" y="423.25">)</tspan></text>
<text class="sg" transform="translate(112.5 435.55) scale(1.02 1)" text-anchor="middle">n.s.</text>
<text class="sg" transform="translate(214.1 421.55) scale(1.02 1)" text-anchor="middle">a/b/a</text>
<text class="sg" transform="translate(286.6 603.55) scale(1.02 1)" text-anchor="middle">a/ab/b</text>
<text class="sg" transform="translate(369.1 528.3) scale(1.02 1)" text-anchor="middle">a/b/b</text>
</g>
<g>
<line x1="495" x2="852" y1="675.02" y2="675.02" stroke="#ebebeb" stroke-width="0.75"/>
<line x1="495" x2="852" y1="617.08" y2="617.08" stroke="#ebebeb" stroke-width="0.75"/>
<line x1="495" x2="852" y1="559.12" y2="559.12" stroke="#ebebeb" stroke-width="0.75"/>
<line x1="495" x2="852" y1="501.18" y2="501.18" stroke="#ebebeb" stroke-width="0.75"/>
<line x1="495" x2="852" y1="443.23" y2="443.23" stroke="#ebebeb" stroke-width="0.75"/>
<line x1="495" x2="852" y1="704" y2="704" stroke="#ebebeb" stroke-width="1.4"/>
<line x1="495" x2="852" y1="646.05" y2="646.05" stroke="#ebebeb" stroke-width="1.4"/>
<line x1="495" x2="852" y1="588.1" y2="588.1" stroke="#ebebeb" stroke-width="1.4"/>
<line x1="495" x2="852" y1="530.15" y2="530.15" stroke="#ebebeb" stroke-width="1.4"/>
<line x1="495" x2="852" y1="472.2" y2="472.2" stroke="#ebebeb" stroke-width="1.4"/>
<line x1="495" x2="852" y1="414.25" y2="414.25" stroke="#ebebeb" stroke-width="1.4"/>
<line x1="545.8" x2="545.8" y1="398.8" y2="718" stroke="#ebebeb" stroke-width="1.4"/>
<line x1="630.6" x2="630.6" y1="398.8" y2="718" stroke="#ebebeb" stroke-width="1.4"/>
<line x1="715.7" x2="715.7" y1="398.8" y2="718" stroke="#ebebeb" stroke-width="1.4"/>
<line x1="800.7" x2="800.7" y1="398.8" y2="718" stroke="#ebebeb" stroke-width="1.4"/>
<rect x="522" y="454.25" width="13.6" height="249.45" fill="#8DA0CB" stroke="#141414" stroke-width="1.6"/>
<rect x="539" y="443.5" width="13.6" height="260.2" fill="#FC8D62" stroke="#141414" stroke-width="1.6"/>
<rect x="556" y="494.75" width="13.6" height="208.95" fill="#66C2A5" stroke="#141414" stroke-width="1.6"/>
<line class="es" x1="528.8" x2="528.8" y1="437.75" y2="472"/>
<line class="ec" x1="524.41" x2="533.19" y1="437.75" y2="437.75"/>
<line class="ec" x1="524.41" x2="533.19" y1="472" y2="472"/>
<line class="es" x1="545.8" x2="545.8" y1="430.5" y2="455.5"/>
<line class="ec" x1="541.41" x2="550.19" y1="430.5" y2="430.5"/>
<line class="ec" x1="541.41" x2="550.19" y1="455.5" y2="455.5"/>
<line class="es" x1="562.8" x2="562.8" y1="479.5" y2="510.5"/>
<line class="ec" x1="558.41" x2="567.19" y1="479.5" y2="479.5"/>
<line class="ec" x1="558.41" x2="567.19" y1="510.5" y2="510.5"/>
<rect x="606.8" y="517" width="13.6" height="186.7" fill="#8DA0CB" stroke="#141414" stroke-width="1.6"/>
<rect x="623.8" y="425.5" width="13.6" height="278.2" fill="#FC8D62" stroke="#141414" stroke-width="1.6"/>
<rect x="640.8" y="471.25" width="13.6" height="232.45" fill="#66C2A5" stroke="#141414" stroke-width="1.6"/>
<line class="es" x1="613.6" x2="613.6" y1="500.5" y2="533.25"/>
<line class="ec" x1="609.21" x2="617.99" y1="500.5" y2="500.5"/>
<line class="ec" x1="609.21" x2="617.99" y1="533.25" y2="533.25"/>
<line class="es" x1="630.6" x2="630.6" y1="413.5" y2="437.75"/>
<line class="ec" x1="626.21" x2="634.99" y1="413.5" y2="413.5"/>
<line class="ec" x1="626.21" x2="634.99" y1="437.75" y2="437.75"/>
<line class="es" x1="647.6" x2="647.6" y1="453.25" y2="489.5"/>
<line class="ec" x1="643.21" x2="651.99" y1="453.25" y2="453.25"/>
<line class="ec" x1="643.21" x2="651.99" y1="489.5" y2="489.5"/>
<rect x="691.9" y="579.5" width="13.6" height="124.2" fill="#8DA0CB" stroke="#141414" stroke-width="1.6"/>
<rect x="708.9" y="576.5" width="13.6" height="127.2" fill="#FC8D62" stroke="#141414" stroke-width="1.6"/>
<rect x="725.9" y="534.75" width="13.6" height="168.95" fill="#66C2A5" stroke="#141414" stroke-width="1.6"/>
<line class="es" x1="698.7" x2="698.7" y1="572" y2="587"/>
<line class="ec" x1="694.31" x2="703.09" y1="572" y2="572"/>
<line class="ec" x1="694.31" x2="703.09" y1="587" y2="587"/>
<line class="es" x1="715.7" x2="715.7" y1="566.75" y2="586.25"/>
<line class="ec" x1="711.31" x2="720.09" y1="566.75" y2="566.75"/>
<line class="ec" x1="711.31" x2="720.09" y1="586.25" y2="586.25"/>
<line class="es" x1="732.7" x2="732.7" y1="529.25" y2="540.75"/>
<line class="ec" x1="728.31" x2="737.09" y1="529.25" y2="529.25"/>
<line class="ec" x1="728.31" x2="737.09" y1="540.75" y2="540.75"/>
<rect x="776.9" y="543.75" width="13.6" height="159.95" fill="#8DA0CB" stroke="#141414" stroke-width="1.6"/>
<rect x="793.9" y="480.75" width="13.6" height="222.95" fill="#FC8D62" stroke="#141414" stroke-width="1.6"/>
<rect x="810.9" y="449.75" width="13.6" height="253.95" fill="#66C2A5" stroke="#141414" stroke-width="1.6"/>
<line class="es" x1="783.7" x2="783.7" y1="525.25" y2="562.5"/>
<line class="ec" x1="779.31" x2="788.09" y1="525.25" y2="525.25"/>
<line class="ec" x1="779.31" x2="788.09" y1="562.5" y2="562.5"/>
<line class="es" x1="800.7" x2="800.7" y1="462" y2="499.25"/>
<line class="ec" x1="796.31" x2="805.09" y1="462" y2="462"/>
<line class="ec" x1="796.31" x2="805.09" y1="499.25" y2="499.25"/>
<line class="es" x1="817.7" x2="817.7" y1="431.5" y2="469"/>
<line class="ec" x1="813.31" x2="822.09" y1="431.5" y2="431.5"/>
<line class="ec" x1="813.31" x2="822.09" y1="469" y2="469"/>
<rect x="495" y="398.8" width="357" height="319.2" fill="none" stroke="#6e6e6e" stroke-width="1.25"/>
<line x1="490.5" x2="495" y1="704" y2="704" stroke="#666666" stroke-width="1.1"/>
<text class="tk" x="487.2" y="711.5" text-anchor="end">0</text>
<line x1="490.5" x2="495" y1="646.05" y2="646.05" stroke="#666666" stroke-width="1.1"/>
<text class="tk" x="487.2" y="653.55" text-anchor="end">5</text>
<line x1="490.5" x2="495" y1="588.1" y2="588.1" stroke="#666666" stroke-width="1.1"/>
<text class="tk" x="487.2" y="595.6" text-anchor="end">10</text>
<line x1="490.5" x2="495" y1="530.15" y2="530.15" stroke="#666666" stroke-width="1.1"/>
<text class="tk" x="487.2" y="537.65" text-anchor="end">15</text>
<line x1="490.5" x2="495" y1="472.2" y2="472.2" stroke="#666666" stroke-width="1.1"/>
<text class="tk" x="487.2" y="479.7" text-anchor="end">20</text>
<line x1="490.5" x2="495" y1="414.25" y2="414.25" stroke="#666666" stroke-width="1.1"/>
<text class="tk" x="487.2" y="421.75" text-anchor="end">25</text>
<line x1="545.8" x2="545.8" y1="718" y2="722.5" stroke="#666666" stroke-width="1.1"/>
<text class="tk" x="545.8" y="741" text-anchor="middle">BISMAC</text>
<line x1="630.6" x2="630.6" y1="718" y2="722.5" stroke="#666666" stroke-width="1.1"/>
<text class="tk" x="630.6" y="741" text-anchor="middle">BISVIV</text>
<line x1="715.7" x2="715.7" y1="718" y2="722.5" stroke="#666666" stroke-width="1.1"/>
<text class="tk" x="715.7" y="741" text-anchor="middle">CREDIS</text>
<line x1="800.7" x2="800.7" y1="718" y2="722.5" stroke="#666666" stroke-width="1.1"/>
<text class="tk" x="800.7" y="741" text-anchor="middle">DESLIT</text>
<text class="ti" transform="translate(455.4 558.4) rotate(-90)" text-anchor="middle">Stem mass fraction (%)</text>
<text><tspan class="pp" x="498.9" y="423.25">(</tspan><tspan class="pl" x="508.18" y="424.37">f</tspan><tspan class="pp" x="521.36" y="423.25">)</tspan></text>
<text class="sg" transform="translate(564.75 421.05) scale(1.02 1)" text-anchor="middle">ab/a/b</text>
<text class="sg" transform="translate(666.9 420.3) scale(1.02 1)" text-anchor="middle">c/a/b</text>
<text class="sg" transform="translate(801.25 421.8) scale(1.02 1)" text-anchor="middle">b/a/a</text>
<text class="sg" transform="translate(713.6 516.05) scale(1.02 1)" text-anchor="middle">b/b/a</text>
</g>
<g>
<line x1="928.1" x2="1284.6" y1="675.52" y2="675.52" stroke="#ebebeb" stroke-width="0.75"/>
<line x1="928.1" x2="1284.6" y1="618.58" y2="618.58" stroke="#ebebeb" stroke-width="0.75"/>
<line x1="928.1" x2="1284.6" y1="561.62" y2="561.62" stroke="#ebebeb" stroke-width="0.75"/>
<line x1="928.1" x2="1284.6" y1="504.67" y2="504.67" stroke="#ebebeb" stroke-width="0.75"/>
<line x1="928.1" x2="1284.6" y1="447.72" y2="447.72" stroke="#ebebeb" stroke-width="0.75"/>
<line x1="928.1" x2="1284.6" y1="704" y2="704" stroke="#ebebeb" stroke-width="1.4"/>
<line x1="928.1" x2="1284.6" y1="647.05" y2="647.05" stroke="#ebebeb" stroke-width="1.4"/>
<line x1="928.1" x2="1284.6" y1="590.1" y2="590.1" stroke="#ebebeb" stroke-width="1.4"/>
<line x1="928.1" x2="1284.6" y1="533.15" y2="533.15" stroke="#ebebeb" stroke-width="1.4"/>
<line x1="928.1" x2="1284.6" y1="476.2" y2="476.2" stroke="#ebebeb" stroke-width="1.4"/>
<line x1="928.1" x2="1284.6" y1="419.25" y2="419.25" stroke="#ebebeb" stroke-width="1.4"/>
<line x1="978.53" x2="978.53" y1="398.8" y2="718" stroke="#ebebeb" stroke-width="1.4"/>
<line x1="1063.51" x2="1063.51" y1="398.8" y2="718" stroke="#ebebeb" stroke-width="1.4"/>
<line x1="1148.89" x2="1148.89" y1="398.8" y2="718" stroke="#ebebeb" stroke-width="1.4"/>
<line x1="1233.87" x2="1233.87" y1="398.8" y2="718" stroke="#ebebeb" stroke-width="1.4"/>
<rect x="954.75" y="672.25" width="13.6" height="31.45" fill="#8DA0CB" stroke="#141414" stroke-width="1.6"/>
<rect x="971.73" y="667.25" width="13.6" height="36.45" fill="#FC8D62" stroke="#141414" stroke-width="1.6"/>
<rect x="988.7" y="668.75" width="13.6" height="34.95" fill="#66C2A5" stroke="#141414" stroke-width="1.6"/>
<line class="es" x1="961.55" x2="961.55" y1="669.5" y2="675"/>
<line class="ec" x1="957.17" x2="965.94" y1="669.5" y2="669.5"/>
<line class="ec" x1="957.17" x2="965.94" y1="675" y2="675"/>
<line class="es" x1="978.53" x2="978.53" y1="663.75" y2="670.75"/>
<line class="ec" x1="974.14" x2="982.91" y1="663.75" y2="663.75"/>
<line class="ec" x1="974.14" x2="982.91" y1="670.75" y2="670.75"/>
<line class="es" x1="995.5" x2="995.5" y1="664" y2="673.25"/>
<line class="ec" x1="991.12" x2="999.89" y1="664" y2="664"/>
<line class="ec" x1="991.12" x2="999.89" y1="673.25" y2="673.25"/>
<rect x="1039.73" y="649" width="13.6" height="54.7" fill="#8DA0CB" stroke="#141414" stroke-width="1.6"/>
<rect x="1056.71" y="646" width="13.6" height="57.7" fill="#FC8D62" stroke="#141414" stroke-width="1.6"/>
<rect x="1073.69" y="664.5" width="13.6" height="39.2" fill="#66C2A5" stroke="#141414" stroke-width="1.6"/>
<line class="es" x1="1046.53" x2="1046.53" y1="644.5" y2="654.5"/>
<line class="ec" x1="1042.15" x2="1050.92" y1="644.5" y2="644.5"/>
<line class="ec" x1="1042.15" x2="1050.92" y1="654.5" y2="654.5"/>
<line class="es" x1="1063.51" x2="1063.51" y1="642.25" y2="650"/>
<line class="ec" x1="1059.12" x2="1067.9" y1="642.25" y2="642.25"/>
<line class="ec" x1="1059.12" x2="1067.9" y1="650" y2="650"/>
<line class="es" x1="1080.49" x2="1080.49" y1="659.75" y2="669.5"/>
<line class="ec" x1="1076.1" x2="1084.87" y1="659.75" y2="659.75"/>
<line class="ec" x1="1076.1" x2="1084.87" y1="669.5" y2="669.5"/>
<rect x="1125.11" y="439" width="13.6" height="264.7" fill="#8DA0CB" stroke="#141414" stroke-width="1.6"/>
<rect x="1142.09" y="439" width="13.6" height="264.7" fill="#FC8D62" stroke="#141414" stroke-width="1.6"/>
<rect x="1159.07" y="467.25" width="13.6" height="236.45" fill="#66C2A5" stroke="#141414" stroke-width="1.6"/>
<line class="es" x1="1131.91" x2="1131.91" y1="426.75" y2="451.25"/>
<line class="ec" x1="1127.53" x2="1136.3" y1="426.75" y2="426.75"/>
<line class="ec" x1="1127.53" x2="1136.3" y1="451.25" y2="451.25"/>
<line class="es" x1="1148.89" x2="1148.89" y1="425" y2="452.5"/>
<line class="ec" x1="1144.5" x2="1153.28" y1="425" y2="425"/>
<line class="ec" x1="1144.5" x2="1153.28" y1="452.5" y2="452.5"/>
<line class="es" x1="1165.87" x2="1165.87" y1="460" y2="474.75"/>
<line class="ec" x1="1161.48" x2="1170.25" y1="460" y2="460"/>
<line class="ec" x1="1161.48" x2="1170.25" y1="474.75" y2="474.75"/>
<rect x="1210.1" y="461.25" width="13.6" height="242.45" fill="#8DA0CB" stroke="#141414" stroke-width="1.6"/>
<rect x="1227.07" y="430" width="13.6" height="273.7" fill="#FC8D62" stroke="#141414" stroke-width="1.6"/>
<rect x="1244.05" y="422.5" width="13.6" height="281.2" fill="#66C2A5" stroke="#141414" stroke-width="1.6"/>
<line class="es" x1="1216.9" x2="1216.9" y1="448" y2="474"/>
<line class="ec" x1="1212.51" x2="1221.28" y1="448" y2="448"/>
<line class="ec" x1="1212.51" x2="1221.28" y1="474" y2="474"/>
<line class="es" x1="1233.87" x2="1233.87" y1="421.25" y2="438.75"/>
<line class="ec" x1="1229.49" x2="1238.26" y1="421.25" y2="421.25"/>
<line class="ec" x1="1229.49" x2="1238.26" y1="438.75" y2="438.75"/>
<line class="es" x1="1250.85" x2="1250.85" y1="413.5" y2="431.5"/>
<line class="ec" x1="1246.46" x2="1255.23" y1="413.5" y2="413.5"/>
<line class="ec" x1="1246.46" x2="1255.23" y1="431.5" y2="431.5"/>
<rect x="928.1" y="398.8" width="356.5" height="319.2" fill="none" stroke="#6e6e6e" stroke-width="1.25"/>
<line x1="923.6" x2="928.1" y1="704" y2="704" stroke="#666666" stroke-width="1.1"/>
<text class="tk" x="920.3" y="711.5" text-anchor="end">0</text>
<line x1="923.6" x2="928.1" y1="647.05" y2="647.05" stroke="#666666" stroke-width="1.1"/>
<text class="tk" x="920.3" y="654.55" text-anchor="end">10</text>
<line x1="923.6" x2="928.1" y1="590.1" y2="590.1" stroke="#666666" stroke-width="1.1"/>
<text class="tk" x="920.3" y="597.6" text-anchor="end">20</text>
<line x1="923.6" x2="928.1" y1="533.15" y2="533.15" stroke="#666666" stroke-width="1.1"/>
<text class="tk" x="920.3" y="540.65" text-anchor="end">30</text>
<line x1="923.6" x2="928.1" y1="476.2" y2="476.2" stroke="#666666" stroke-width="1.1"/>
<text class="tk" x="920.3" y="483.7" text-anchor="end">40</text>
<line x1="923.6" x2="928.1" y1="419.25" y2="419.25" stroke="#666666" stroke-width="1.1"/>
<text class="tk" x="920.3" y="426.75" text-anchor="end">50</text>
<line x1="978.53" x2="978.53" y1="718" y2="722.5" stroke="#666666" stroke-width="1.1"/>
<text class="tk" x="978.53" y="741" text-anchor="middle">BISMAC</text>
<line x1="1063.51" x2="1063.51" y1="718" y2="722.5" stroke="#666666" stroke-width="1.1"/>
<text class="tk" x="1063.51" y="741" text-anchor="middle">BISVIV</text>
<line x1="1148.89" x2="1148.89" y1="718" y2="722.5" stroke="#666666" stroke-width="1.1"/>
<text class="tk" x="1148.89" y="741" text-anchor="middle">CREDIS</text>
<line x1="1233.87" x2="1233.87" y1="718" y2="722.5" stroke="#666666" stroke-width="1.1"/>
<text class="tk" x="1233.87" y="741" text-anchor="middle">DESLIT</text>
<text class="ti" transform="translate(887.5 558.4) rotate(-90)" text-anchor="middle">Leaf mass fraction (%)</text>
<text><tspan class="pp" x="932.65" y="423.25">(</tspan><tspan class="pl" x="942.47" y="421.56">g</tspan><tspan class="pp" x="958.01" y="423.25">)</tspan></text>
<text class="sg" transform="translate(1150.6 419.8) scale(1.02 1)" text-anchor="middle">n.s.</text>
<text class="sg" transform="translate(1216.75 418.55) scale(1.02 1)" text-anchor="middle">b/a/a</text>
<text class="sg" transform="translate(979.4 656.05) scale(1.02 1)" text-anchor="middle">n.s.</text>
<text class="sg" transform="translate(1065.4 634.8) scale(1.02 1)" text-anchor="middle">a/a/b</text>
</g>
<g>
<line x1="1360.7" x2="1718" y1="652.33" y2="652.33" stroke="#ebebeb" stroke-width="0.75"/>
<line x1="1360.7" x2="1718" y1="548.98" y2="548.98" stroke="#ebebeb" stroke-width="0.75"/>
<line x1="1360.7" x2="1718" y1="445.62" y2="445.62" stroke="#ebebeb" stroke-width="0.75"/>
<line x1="1360.7" x2="1718" y1="704" y2="704" stroke="#ebebeb" stroke-width="1.4"/>
<line x1="1360.7" x2="1718" y1="600.65" y2="600.65" stroke="#ebebeb" stroke-width="1.4"/>
<line x1="1360.7" x2="1718" y1="497.3" y2="497.3" stroke="#ebebeb" stroke-width="1.4"/>
<line x1="1411.84" x2="1411.84" y1="398.8" y2="718" stroke="#ebebeb" stroke-width="1.4"/>
<line x1="1496.81" x2="1496.81" y1="398.8" y2="718" stroke="#ebebeb" stroke-width="1.4"/>
<line x1="1581.89" x2="1581.89" y1="398.8" y2="718" stroke="#ebebeb" stroke-width="1.4"/>
<line x1="1666.96" x2="1666.96" y1="398.8" y2="718" stroke="#ebebeb" stroke-width="1.4"/>

<rect x="1388.03" y="559.5" width="13.6" height="144.2" fill="#8DA0CB" stroke="#141414" stroke-width="1.6"/>
<rect x="1405.04" y="564.5" width="13.6" height="139.2" fill="#FC8D62" stroke="#141414" stroke-width="1.6"/>
<rect x="1422.06" y="587.5" width="13.6" height="116.2" fill="#66C2A5" stroke="#141414" stroke-width="1.6"/>
<line class="es" x1="1394.83" x2="1394.83" y1="548.25" y2="569"/>
<line class="ec" x1="1390.43" x2="1399.22" y1="548.25" y2="548.25"/>
<line class="ec" x1="1390.43" x2="1399.22" y1="569" y2="569"/>
<line class="es" x1="1411.84" x2="1411.84" y1="556.5" y2="573"/>
<line class="ec" x1="1407.45" x2="1416.24" y1="556.5" y2="556.5"/>
<line class="ec" x1="1407.45" x2="1416.24" y1="573" y2="573"/>
<line class="es" x1="1428.86" x2="1428.86" y1="579" y2="596.5"/>
<line class="ec" x1="1424.46" x2="1433.25" y1="579" y2="579"/>
<line class="ec" x1="1424.46" x2="1433.25" y1="596.5" y2="596.5"/>
<rect x="1473" y="682" width="13.6" height="21.7" fill="#8DA0CB" stroke="#141414" stroke-width="1.6"/>
<rect x="1490.01" y="668.5" width="13.6" height="35.2" fill="#FC8D62" stroke="#141414" stroke-width="1.6"/>
<rect x="1507.03" y="660.75" width="13.6" height="42.95" fill="#66C2A5" stroke="#141414" stroke-width="1.6"/>
<line class="es" x1="1479.8" x2="1479.8" y1="679" y2="685"/>
<line class="ec" x1="1475.4" x2="1484.2" y1="679" y2="679"/>
<line class="ec" x1="1475.4" x2="1484.2" y1="685" y2="685"/>
<line class="es" x1="1496.81" x2="1496.81" y1="665" y2="672.75"/>
<line class="ec" x1="1492.42" x2="1501.21" y1="665" y2="665"/>
<line class="ec" x1="1492.42" x2="1501.21" y1="672.75" y2="672.75"/>
<line class="es" x1="1513.83" x2="1513.83" y1="655" y2="666.5"/>
<line class="ec" x1="1509.43" x2="1518.22" y1="655" y2="655"/>
<line class="ec" x1="1509.43" x2="1518.22" y1="666.5" y2="666.5"/>
<rect x="1558.07" y="488.75" width="13.6" height="214.95" fill="#8DA0CB" stroke="#141414" stroke-width="1.6"/>
<rect x="1575.09" y="466.5" width="13.6" height="237.2" fill="#FC8D62" stroke="#141414" stroke-width="1.6"/>
<rect x="1592.1" y="422.5" width="13.6" height="281.2" fill="#66C2A5" stroke="#141414" stroke-width="1.6"/>
<line class="es" x1="1564.87" x2="1564.87" y1="473.5" y2="504.5"/>
<line class="ec" x1="1560.48" x2="1569.27" y1="473.5" y2="473.5"/>
<line class="ec" x1="1560.48" x2="1569.27" y1="504.5" y2="504.5"/>
<line class="es" x1="1581.89" x2="1581.89" y1="446.5" y2="486.5"/>
<line class="ec" x1="1577.49" x2="1586.28" y1="446.5" y2="446.5"/>
<line class="ec" x1="1577.49" x2="1586.28" y1="486.5" y2="486.5"/>
<line class="es" x1="1598.9" x2="1598.9" y1="413.5" y2="431.75"/>
<line class="ec" x1="1594.5" x2="1603.3" y1="413.5" y2="413.5"/>
<line class="ec" x1="1594.5" x2="1603.3" y1="431.75" y2="431.75"/>
<rect x="1643.14" y="675.75" width="13.6" height="27.95" fill="#8DA0CB" stroke="#141414" stroke-width="1.6"/>
<rect x="1660.16" y="663.25" width="13.6" height="40.45" fill="#FC8D62" stroke="#141414" stroke-width="1.6"/>
<rect x="1677.17" y="660.75" width="13.6" height="42.95" fill="#66C2A5" stroke="#141414" stroke-width="1.6"/>
<line class="es" x1="1649.94" x2="1649.94" y1="672.75" y2="679"/>
<line class="ec" x1="1645.55" x2="1654.34" y1="672.75" y2="672.75"/>
<line class="ec" x1="1645.55" x2="1654.34" y1="679" y2="679"/>
<line class="es" x1="1666.96" x2="1666.96" y1="659.5" y2="667"/>
<line class="ec" x1="1662.56" x2="1671.35" y1="659.5" y2="659.5"/>
<line class="ec" x1="1662.56" x2="1671.35" y1="667" y2="667"/>
<line class="es" x1="1683.97" x2="1683.97" y1="656.75" y2="664.75"/>
<line class="ec" x1="1679.58" x2="1688.37" y1="656.75" y2="656.75"/>
<line class="ec" x1="1679.58" x2="1688.37" y1="664.75" y2="664.75"/>
<rect x="1360.7" y="398.8" width="357.3" height="319.2" fill="none" stroke="#6e6e6e" stroke-width="1.25"/>
<line x1="1356.2" x2="1360.7" y1="704" y2="704" stroke="#666666" stroke-width="1.1"/>
<text class="tk" x="1352.9" y="711.5" text-anchor="end">0</text>
<line x1="1356.2" x2="1360.7" y1="600.65" y2="600.65" stroke="#666666" stroke-width="1.1"/>
<text class="tk" x="1352.9" y="608.15" text-anchor="end">10</text>
<line x1="1356.2" x2="1360.7" y1="497.3" y2="497.3" stroke="#666666" stroke-width="1.1"/>
<text class="tk" x="1352.9" y="504.8" text-anchor="end">20</text>
<line x1="1411.84" x2="1411.84" y1="718" y2="722.5" stroke="#666666" stroke-width="1.1"/>
<text class="tk" x="1411.84" y="741" text-anchor="middle">BISMAC</text>
<line x1="1496.81" x2="1496.81" y1="718" y2="722.5" stroke="#666666" stroke-width="1.1"/>
<text class="tk" x="1496.81" y="741" text-anchor="middle">BISVIV</text>
<line x1="1581.89" x2="1581.89" y1="718" y2="722.5" stroke="#666666" stroke-width="1.1"/>
<text class="tk" x="1581.89" y="741" text-anchor="middle">CREDIS</text>
<line x1="1666.96" x2="1666.96" y1="718" y2="722.5" stroke="#666666" stroke-width="1.1"/>
<text class="tk" x="1666.96" y="741" text-anchor="middle">DESLIT</text>
<text class="ti" transform="translate(1321.1 558.4) rotate(-90)" text-anchor="middle">Flower mass fraction (%)</text>
<text><tspan class="pp" x="1365.1" y="423.25">(</tspan><tspan class="pl" x="1374.5" y="426.2">h</tspan><tspan class="pp" x="1389.81" y="423.25">)</tspan></text>
<text class="sg" transform="translate(1568.1 419.3) scale(1.02 1)" text-anchor="middle">b/b/a</text>
<text class="sg" transform="translate(1407.25 543.55) scale(1.02 1)" text-anchor="middle">n.s.</text>
<text class="sg" transform="translate(1495.1 646.55) scale(1.02 1)" text-anchor="middle">b/a/a</text>
<text class="sg" transform="translate(1671.25 647.3) scale(1.02 1)" text-anchor="middle">b/a/a</text>
<rect x="1412.6" y="404.6" width="128.4" height="96.5" fill="#fff"/>
<text class="lt" style="font-size:20.5px" x="1418.2" y="422.5">Slope aspect</text>
<rect x="1419.8" y="435.5" width="19.2" height="20.17" fill="#8DA0CB" stroke="#141414" stroke-width="1.4"/>
<text class="lt" x="1450.6" y="453">NE</text>
<rect x="1419.8" y="457.07" width="19.2" height="20.17" fill="#FC8D62" stroke="#141414" stroke-width="1.4"/>
<text class="lt" x="1450.6" y="474.57">SE</text>
<rect x="1419.8" y="478.64" width="19.2" height="20.17" fill="#66C2A5" stroke="#141414" stroke-width="1.4"/>
<text class="lt" x="1450.6" y="496.14">SW</text>
</g>
</g>
</svg>
</body>
</html>
